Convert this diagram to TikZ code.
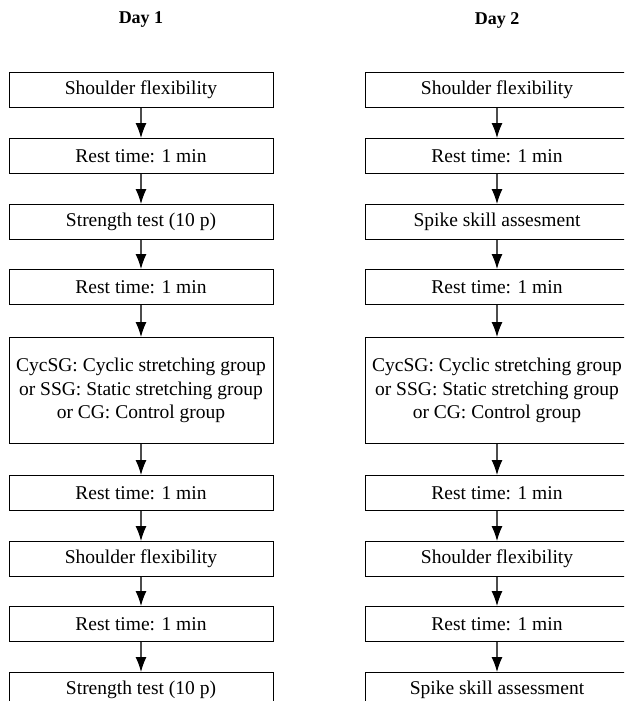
\documentclass[tikz,border=0pt]{standalone}
\usepackage{fontspec}
\setmainfont{Liberation Serif}
\usetikzlibrary{arrows.meta}
\begin{document}
\begin{tikzpicture}[x=1pt,y=-1pt,
  stepbox/.style={draw=black, line width=0.9pt, minimum width=264pt, minimum height=35pt, inner sep=0pt, anchor=north, font=\fontsize{19.5}{23.5}\selectfont, align=center},
  bigbox/.style={stepbox, minimum height=106pt},
  title/.style={font=\fontsize{18}{20}\selectfont\bfseries},
  flow/.style={draw=black!70, line width=1.1pt, -{Latex[length=15pt,width=11pt,color=black,fill=black]}}]
\useasboundingbox (0,0) rectangle (624,701);
\clip (0,0) rectangle (624,701);
\node[title] (t1) at (141,20) {Day 1};
\node[title] (t2) at (497,20) {Day 2};
% Day 1
\node[stepbox] (a1) at (141,72) {Shoulder flexibility};
\node[stepbox] (a2) at (141,138) {Rest time: 1 min};
\node[stepbox] (a3) at (141,204) {Strength test (10 p)};
\node[stepbox] (a4) at (141,269) {Rest time: 1 min};
\node[bigbox] (a5) at (141,337) {CycSG: Cyclic stretching group\\or SSG: Static stretching group\\or CG: Control group};
\node[stepbox] (a6) at (141,475) {Rest time: 1 min};
\node[stepbox] (a7) at (141,541) {Shoulder flexibility};
\node[stepbox] (a8) at (141,606) {Rest time: 1 min};
\node[stepbox] (a9) at (141,672) {Strength test (10 p)};
% Day 2
\node[stepbox] (b1) at (497,72) {Shoulder flexibility};
\node[stepbox] (b2) at (497,138) {Rest time: 1 min};
\node[stepbox] (b3) at (497,204) {Spike skill assesment};
\node[stepbox] (b4) at (497,269) {Rest time: 1 min};
\node[bigbox] (b5) at (497,337) {CycSG: Cyclic stretching group\\or SSG: Static stretching group\\or CG: Control group};
\node[stepbox] (b6) at (497,475) {Rest time: 1 min};
\node[stepbox] (b7) at (497,541) {Shoulder flexibility};
\node[stepbox] (b8) at (497,606) {Rest time: 1 min};
\node[stepbox] (b9) at (497,672) {Spike skill assessment};
\foreach \c in {a,b}{
  \foreach \i [evaluate=\i as \j using int(\i+1)] in {1,...,8}{
    \draw[flow] (\c\i.south) -- (\c\j.north);
  }
}
\end{tikzpicture}
\end{document}
